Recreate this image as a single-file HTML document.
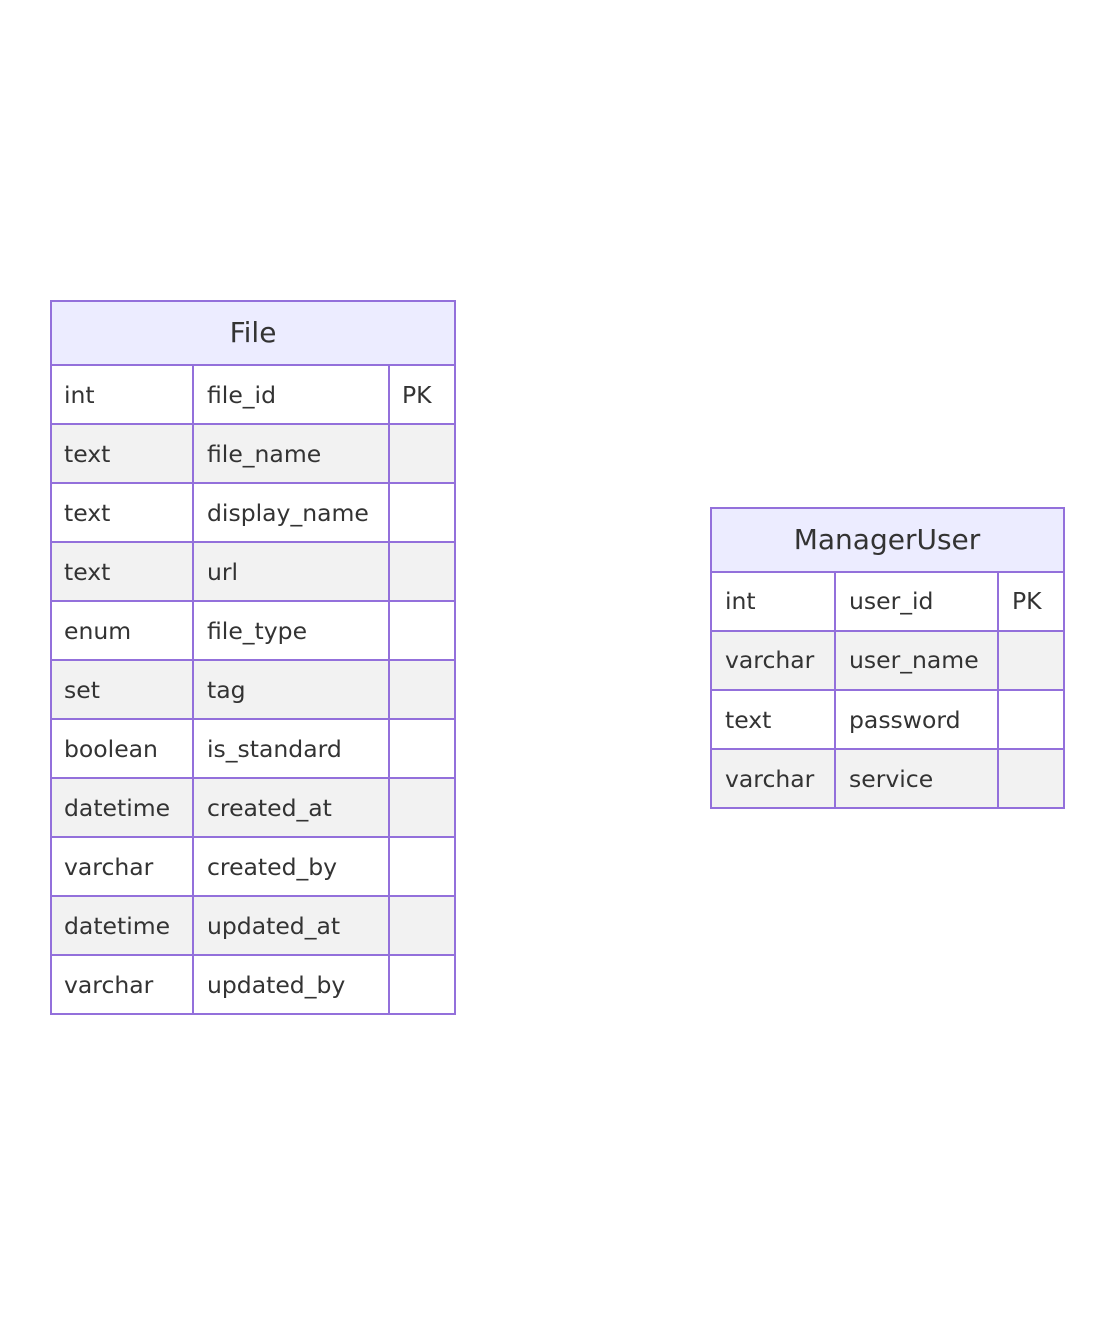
<!DOCTYPE html>
<html><head><style>
html,body{margin:0;padding:0;background:#fff;}
svg text{font-family:"DejaVu Sans","Liberation Sans",sans-serif;fill:#333;}
</style></head><body>
<svg width="1116" height="1318" viewBox="0 0 1116 1318" xmlns="http://www.w3.org/2000/svg">
<g stroke="#9370DB" stroke-width="2">
<rect x="51" y="301" width="404" height="64" fill="#ECECFF"/>
<rect x="51" y="365" width="404" height="59" fill="#fff"/>
<rect x="51" y="424" width="404" height="59" fill="#F2F2F2"/>
<rect x="51" y="483" width="404" height="59" fill="#fff"/>
<rect x="51" y="542" width="404" height="59" fill="#F2F2F2"/>
<rect x="51" y="601" width="404" height="59" fill="#fff"/>
<rect x="51" y="660" width="404" height="59" fill="#F2F2F2"/>
<rect x="51" y="719" width="404" height="59" fill="#fff"/>
<rect x="51" y="778" width="404" height="59" fill="#F2F2F2"/>
<rect x="51" y="837" width="404" height="59" fill="#fff"/>
<rect x="51" y="896" width="404" height="59" fill="#F2F2F2"/>
<rect x="51" y="955" width="404" height="59" fill="#fff"/>
<line x1="193" y1="365" x2="193" y2="1014"/>
<line x1="389" y1="365" x2="389" y2="1014"/>
<rect x="711" y="508" width="353" height="64" fill="#ECECFF"/>
<rect x="711" y="572" width="353" height="59" fill="#fff"/>
<rect x="711" y="631" width="353" height="59" fill="#F2F2F2"/>
<rect x="711" y="690" width="353" height="59" fill="#fff"/>
<rect x="711" y="749" width="353" height="59" fill="#F2F2F2"/>
<line x1="835" y1="572" x2="835" y2="808"/>
<line x1="998" y1="572" x2="998" y2="808"/>
</g>
<g font-size="23.5">
<text x="253" y="342" text-anchor="middle" font-size="28">File</text>
<text x="64" y="403">int</text><text x="207" y="403">file_id</text><text x="402" y="403">PK</text>
<text x="64" y="462">text</text><text x="207" y="462">file_name</text>
<text x="64" y="521">text</text><text x="207" y="521">display_name</text>
<text x="64" y="580">text</text><text x="207" y="580">url</text>
<text x="64" y="639">enum</text><text x="207" y="639">file_type</text>
<text x="64" y="698">set</text><text x="207" y="698">tag</text>
<text x="64" y="757">boolean</text><text x="207" y="757">is_standard</text>
<text x="64" y="816">datetime</text><text x="207" y="816">created_at</text>
<text x="64" y="875">varchar</text><text x="207" y="875">created_by</text>
<text x="64" y="934">datetime</text><text x="207" y="934">updated_at</text>
<text x="64" y="993">varchar</text><text x="207" y="993">updated_by</text>
<text x="887" y="549" text-anchor="middle" font-size="28">ManagerUser</text>
<text x="725" y="609">int</text><text x="849" y="609">user_id</text><text x="1012" y="609">PK</text>
<text x="725" y="668">varchar</text><text x="849" y="668">user_name</text>
<text x="725" y="728">text</text><text x="849" y="728">password</text>
<text x="725" y="787">varchar</text><text x="849" y="787">service</text>
</g>
</svg>
</body></html>
